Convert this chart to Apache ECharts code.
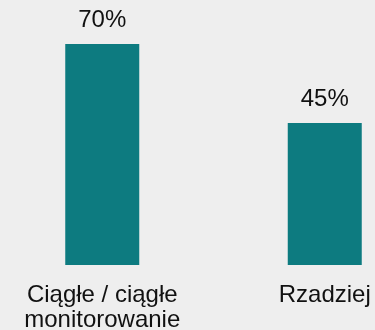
<!DOCTYPE html>
<html><head><meta charset="utf-8">
<style>html,body{margin:0;padding:0;background:#eeeeee;}#c{width:375px;height:330px;}</style>
<script src="https://cdn.jsdelivr.net/npm/echarts@6/dist/echarts.min.js"></script>
</head><body><div id="c"></div>
<script>
const categories = ['Ciągłe / ciągłe\nmonitorowanie', 'Rzadziej'];
const values = [70, 45];
const chart = echarts.init(document.getElementById('c'), null, {renderer:'canvas'});
chart.setOption({
  backgroundColor: '#eeeeee',
  animation: false,
  grid: {left: -9, right: -61, top: 44, bottom: 65, containLabel: false, outerBoundsMode: 'none'},
  xAxis: {
    type: 'category', data: categories,
    axisLine: {show: false}, axisTick: {show: false},
    axisLabel: {color: '#111', fontFamily: 'Liberation Sans, Arial, sans-serif', fontSize: 24, lineHeight: 25, margin: 18, interval: 0}
  },
  yAxis: {type: 'value', min: 0, max: 70, show: false, splitLine: {show: false}},
  series: [{
    type: 'bar', data: values, barWidth: 74,
    itemStyle: {color: '#0d7b80'},
    label: {show: true, position: 'top', distance: 12, formatter: '{c}%', color: '#111', fontFamily: 'Liberation Sans, Arial, sans-serif', fontSize: 24}
  }]
});
</script></body></html>
